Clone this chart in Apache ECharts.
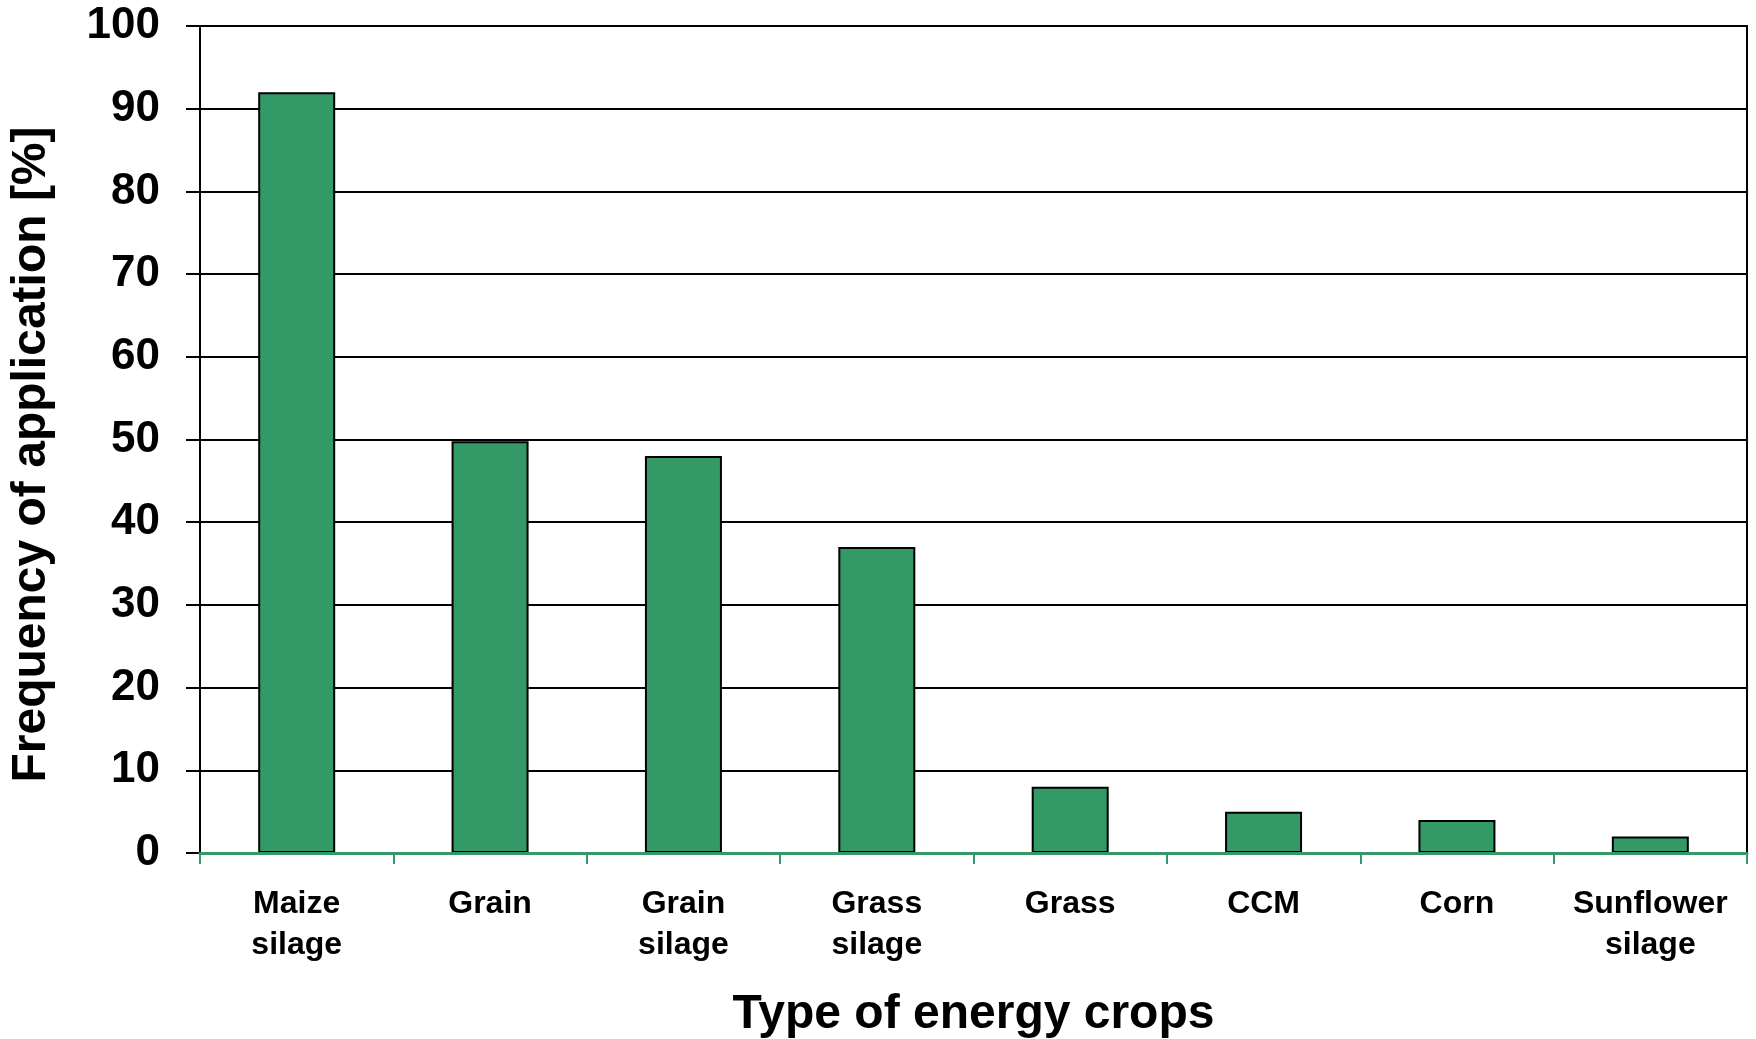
<!DOCTYPE html>
<html>
<head>
<meta charset="utf-8">
<script src="https://cdn.jsdelivr.net/npm/echarts@6/dist/echarts.min.js"></script>
<style>
html,body{margin:0;padding:0;background:#fff;}
#chart{width:1756px;height:1039px;}
</style>
</head>
<body>
<div id="chart"></div>
<script>
const categories = ['Maize\nsilage', 'Grain', 'Grain\nsilage', 'Grass\nsilage', 'Grass', 'CCM', 'Corn', 'Sunflower\nsilage'];
const frequency = [92, 49.8, 48, 37, 8, 5, 4, 2];
const yTicks = { min: 0, max: 100, interval: 10 };

const FONT = '"Liberation Sans", Arial, sans-serif';
const chart = echarts.init(document.getElementById('chart'), null, { renderer: 'canvas' });
chart.setOption({
  animation: false,
  backgroundColor: '#ffffff',
  grid: {
    left: 200, right: 9, top: 26, bottom: 186,
    containLabel: false,
    outerBoundsMode: 'none',
    show: true, borderColor: '#000', borderWidth: 2, backgroundColor: 'transparent'
  },
  xAxis: {
    type: 'category',
    data: categories,
    name: 'Type of energy crops',
    nameLocation: 'middle',
    nameGap: 138,
    nameTextStyle: { fontFamily: FONT, fontWeight: 'bold', fontSize: 48, color: '#000' },
    axisLine: { show: true, lineStyle: { color: '#339966', width: 3 } },
    axisTick: { show: true, alignWithLabel: false, length: 11, lineStyle: { color: '#339966', width: 2 } },
    axisLabel: {
      interval: 0, margin: 31, fontFamily: FONT, fontWeight: 'bold', fontSize: 32,
      lineHeight: 41, color: '#000'
    },
    splitLine: { show: false },
    z: 5
  },
  yAxis: {
    type: 'value',
    min: yTicks.min, max: yTicks.max, interval: yTicks.interval,
    name: 'Frequency of application [%]',
    nameLocation: 'middle',
    nameRotate: 90,
    nameGap: 144,
    nameTextStyle: { fontFamily: FONT, fontWeight: 'bold', fontSize: 48, color: '#000', padding: [0, 30, 0, 0] },
    axisLine: { show: true, lineStyle: { color: '#000', width: 2 } },
    axisTick: { show: true, length: 14, lineStyle: { color: '#000', width: 2 } },
    axisLabel: { margin: 40, fontFamily: FONT, fontWeight: 'bold', fontSize: 44, color: '#000' },
    splitLine: { show: true, lineStyle: { color: '#000', width: 2 } }
  },
  series: [{
    type: 'bar',
    data: frequency,
    barWidth: 77,
    itemStyle: { color: '#339966', borderColor: '#000', borderWidth: 2 }
  }]
});
</script>
</body>
</html>
